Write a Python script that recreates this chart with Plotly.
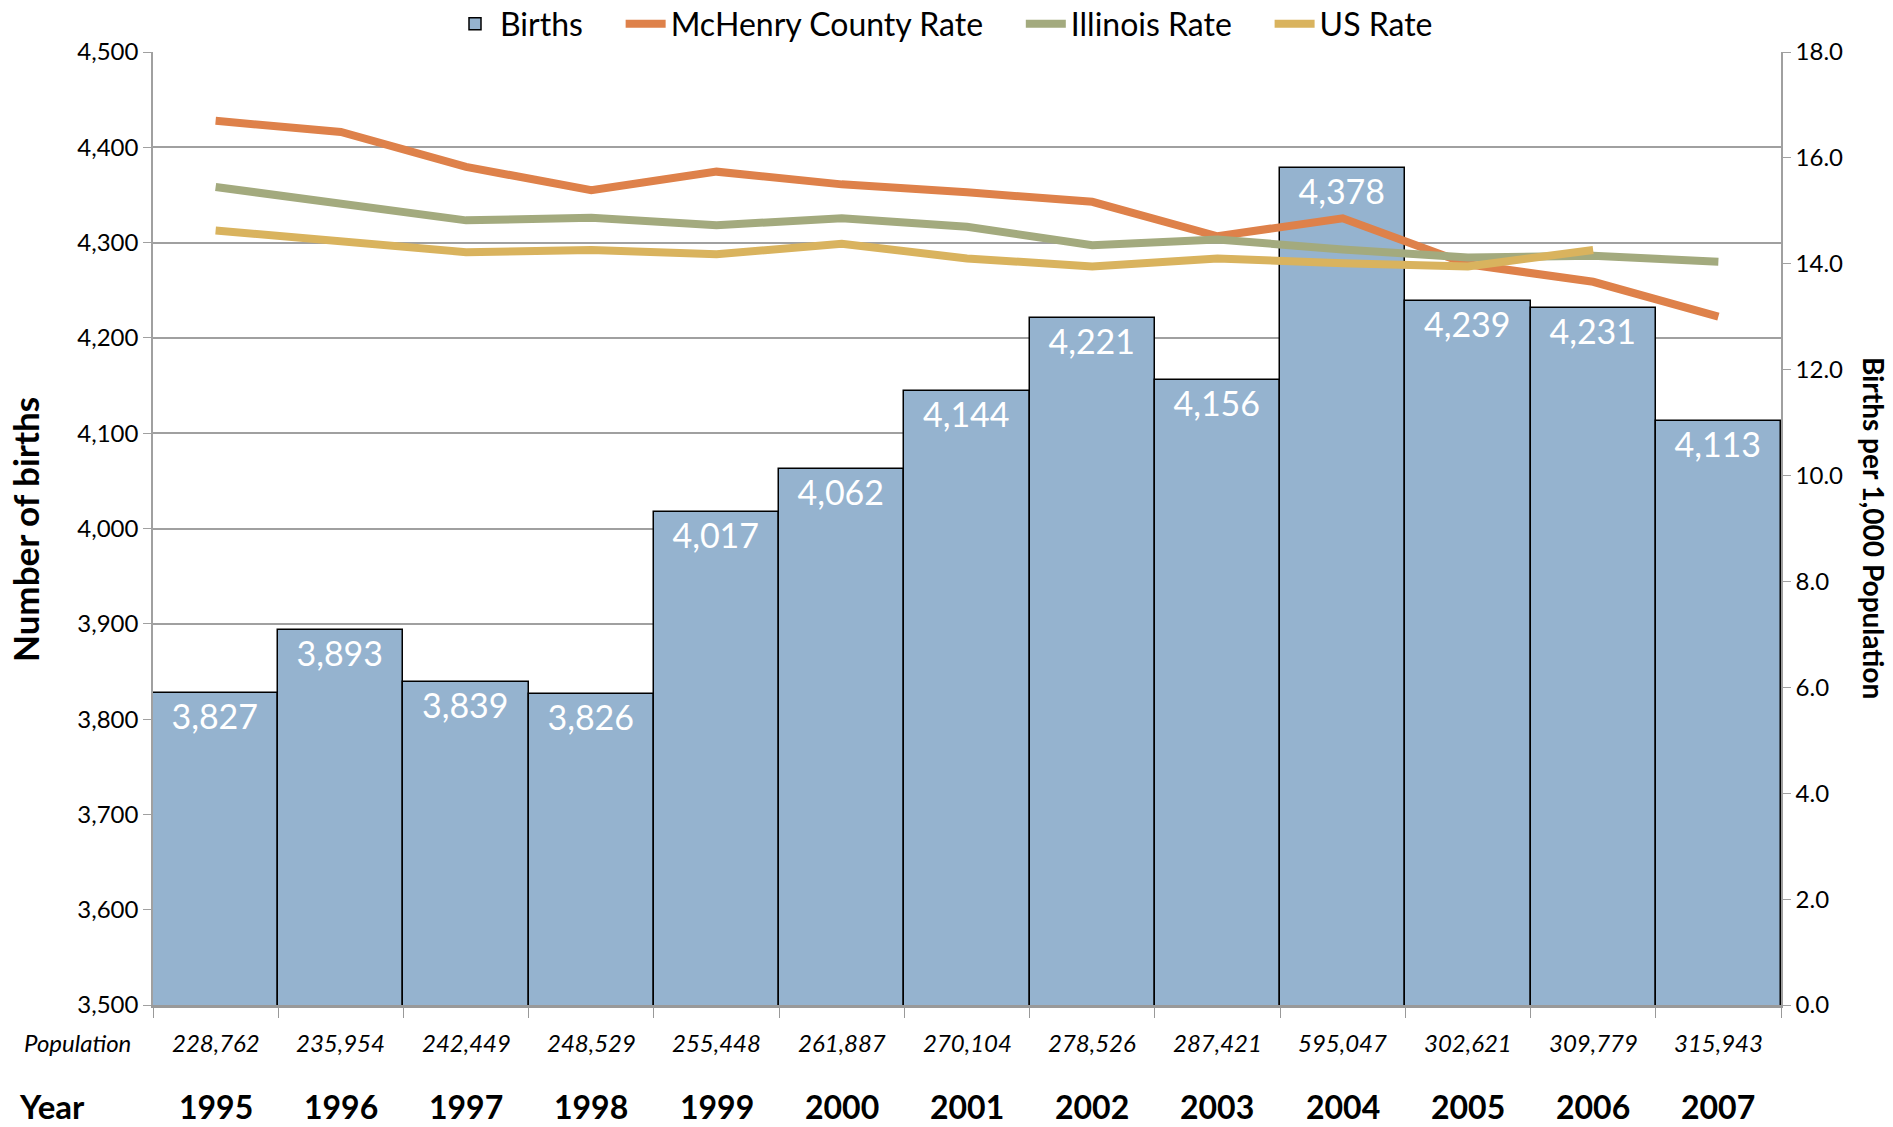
import plotly.graph_objects as go

years = ["1995", "1996", "1997", "1998", "1999", "2000", "2001", "2002", "2003", "2004", "2005", "2006", "2007"]
births = [3827, 3893, 3839, 3826, 4017, 4062, 4144, 4221, 4156, 4378, 4239, 4231, 4113]
population = ["228,762", "235,954", "242,449", "248,529", "255,448", "261,887", "270,104",
              "278,526", "287,421", "595,047", "302,621", "309,779", "315,943"]
mchenry_rate = [16.70, 16.49, 15.83, 15.39, 15.74, 15.50, 15.35, 15.17, 14.52, 14.86, 13.99, 13.66, 13.00]
illinois_rate = [15.45, 15.14, 14.82, 14.87, 14.73, 14.86, 14.70, 14.35, 14.46, 14.27, 14.12, 14.15, 14.04]
us_rate = [14.63, 14.43, 14.22, 14.26, 14.18, 14.38, 14.10, 13.95, 14.10, 14.01, 13.95, 14.26, None]

FONT = "Lato"
W, H = 1893, 1127
L, R, T, B = 153, 112, 52, 122
pw, ph = W - L - R, H - T - B
SP = "\u00a0" * 4


def px_x(x):
    return (x - L) / pw


def px_y(y):
    return (H - B - y) / ph


fig = go.Figure()
fig.add_trace(go.Bar(
    x=years, y=births, name="Births" + SP,
    marker=dict(color="#95B3CF", line=dict(color="#000000", width=1.5)),
    text=[f"{b:,}" for b in births], textposition="inside", insidetextanchor="end",
    textfont=dict(color="white", size=34, family=FONT),
    width=1.0,
))
fig.add_trace(go.Scatter(x=years, y=mchenry_rate, name="McHenry County Rate" + SP, yaxis="y2",
                         mode="lines", line=dict(color="#DE814A", width=8)))
fig.add_trace(go.Scatter(x=years, y=illinois_rate, name="Illinois Rate" + SP, yaxis="y2",
                         mode="lines", line=dict(color="#A3AA7E", width=8)))
fig.add_trace(go.Scatter(x=years, y=us_rate, name="US Rate", yaxis="y2",
                         mode="lines", line=dict(color="#D9B35E", width=8)))

# Population row and Year row under the axis
for i, (yr, pop) in enumerate(zip(years, population)):
    fig.add_annotation(x=i, xref="x", y=px_y(1042), yref="paper", yanchor="middle",
                       text=f"<i>{pop}</i>", showarrow=False,
                       font=dict(size=24, family=FONT, color="#000"))
    fig.add_annotation(x=i, xref="x", y=px_y(1106), yref="paper", yanchor="middle",
                       text=f"<b>{yr}</b>", showarrow=False,
                       font=dict(size=32, family=FONT, color="#000"))
fig.add_annotation(x=px_x(77), xref="paper", xanchor="center", y=px_y(1042), yref="paper",
                   yanchor="middle", text="<i>Population</i>", showarrow=False,
                   font=dict(size=24, family=FONT, color="#000"))
fig.add_annotation(x=px_x(52), xref="paper", xanchor="center", y=px_y(1106), yref="paper",
                   yanchor="middle", text="<b>Year</b>", showarrow=False,
                   font=dict(size=33, family=FONT, color="#000"))
# Axis titles
fig.add_annotation(x=px_x(25), xref="paper", xanchor="center", y=px_y(530), yref="paper",
                   textangle=-90, text="<b>Number of births</b>", showarrow=False,
                   font=dict(size=35, family=FONT, color="#000"))
fig.add_annotation(x=px_x(1874), xref="paper", xanchor="center", y=px_y(528), yref="paper",
                   textangle=90, text="<b>Births per 1,000 Population</b>", showarrow=False,
                   font=dict(size=28, family=FONT, color="#000"))

fig.update_layout(
    width=W, height=H,
    margin=dict(l=L, r=R, t=T, b=B, autoexpand=False),
    paper_bgcolor="white", plot_bgcolor="white",
    font=dict(family=FONT, color="#000"),
    bargap=0,
    showlegend=True,
    legend=dict(orientation="h", x=px_x(944), xanchor="center", xref="paper",
                y=px_y(24), yanchor="middle", yref="paper",
                font=dict(size=32, family=FONT), traceorder="normal",
                tracegroupgap=0, itemwidth=40),
    xaxis=dict(type="category", range=[-0.5, 12.5], showline=True, linecolor="#999999",
               linewidth=3, ticks="outside", tickson="boundaries", ticklen=10,
               tickcolor="#999999", showticklabels=False, showgrid=False),
    yaxis=dict(range=[3500, 4500], dtick=100, tickformat=",d", showgrid=True,
               gridcolor="#A0A0A0", gridwidth=1.5, showline=True, linecolor="#A0A0A0",
               linewidth=1.5, ticks="outside", ticklen=8, tickcolor="#A0A0A0",
               tickfont=dict(size=24, family=FONT)),
    yaxis2=dict(range=[0, 18], dtick=2, tickformat=".1f", overlaying="y", side="right",
                showgrid=False, showline=True, linecolor="#A0A0A0", linewidth=1.5,
                ticks="outside", ticklen=8, tickcolor="#A0A0A0",
                tickfont=dict(size=24, family=FONT)),
)

fig.write_html("out.html", config={"displayModeBar": False},
               post_script="document.body.style.margin='0';document.body.style.overflow='hidden';")
